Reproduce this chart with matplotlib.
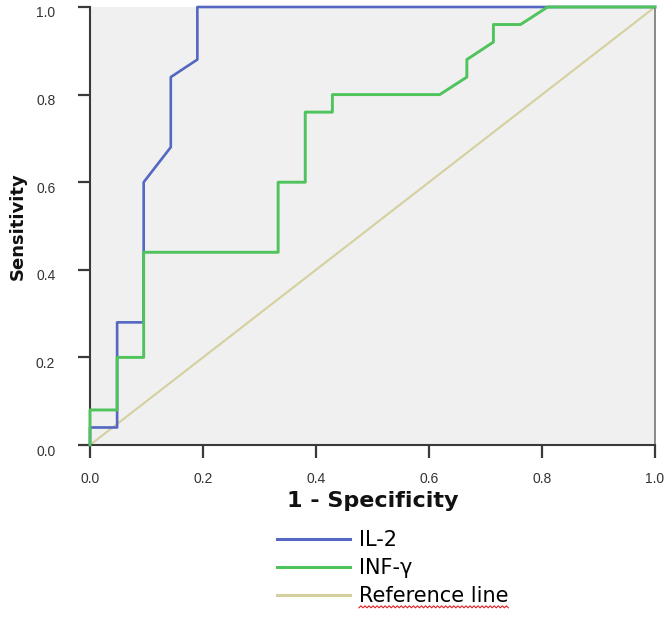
import matplotlib
matplotlib.use('Agg')
import matplotlib.pyplot as plt
from matplotlib.lines import Line2D
import matplotlib.transforms as mtransforms
import numpy as np

# ---- data ----
il2_fpr = [0.0, 0.0, 0.048, 0.048, 0.095, 0.095, 0.143, 0.143, 0.190, 0.190, 1.0]
il2_tpr = [0.0, 0.04, 0.04, 0.28, 0.28, 0.60, 0.68, 0.84, 0.88, 1.0, 1.0]

inf_fpr = [0.0, 0.0, 0.048, 0.048, 0.095, 0.095, 0.333, 0.333, 0.381, 0.381,
           0.429, 0.429, 0.619, 0.667, 0.667, 0.714, 0.714, 0.762, 0.810, 1.0]
inf_tpr = [0.0, 0.08, 0.08, 0.20, 0.20, 0.44, 0.44, 0.60, 0.60, 0.76,
           0.76, 0.80, 0.80, 0.84, 0.88, 0.92, 0.96, 0.96, 1.0, 1.0]

ref_x = [0.0, 1.0]
ref_y = [0.0, 1.0]

tick_values = [0.0, 0.2, 0.4, 0.6, 0.8, 1.0]
tick_labels = ['0.0', '0.2', '0.4', '0.6', '0.8', '1.0']
series_labels = ['IL-2', 'INF-γ', 'Reference line']
x_title = '1 - Specificity'
y_title = 'Sensitivity'

# ---- style ----
c_blue = '#5467c2'
c_green = '#4fc35c'
c_ref = '#d5d09f'
axis_c = '#3a3a3a'

W, H = 672, 617
fig = plt.figure(figsize=(W / 100, H / 100), dpi=100)
ax = fig.add_axes([90 / W, 1 - 445 / H, 565 / W, 438 / H])
ax.set_facecolor('#f0f0f0')

ax.plot(ref_x, ref_y, color=c_ref, lw=1.5, zorder=2)
ax.plot(il2_fpr, il2_tpr, color=c_blue, lw=1.9, zorder=3, clip_on=False)
ax.plot(inf_fpr, inf_tpr, color=c_green, lw=2.1, zorder=4, clip_on=False)

ax.set_xlim(0, 1)
ax.set_ylim(0, 1)
ax.set_xticks(tick_values)
ax.set_xticklabels(tick_labels)
ax.set_yticks(tick_values)
ax.set_yticklabels(tick_labels)

for s in ['left', 'bottom']:
    ax.spines[s].set_color(axis_c)
    ax.spines[s].set_linewidth(1.5)
ax.spines['right'].set_color('#777777')
ax.spines['right'].set_linewidth(1.2)
ax.spines['top'].set_visible(False)

ax.tick_params(direction='out', length=9, width=1.6, color=axis_c,
               labelsize=10, labelcolor='#333333')
ax.tick_params(axis='x', pad=10.5)
ax.tick_params(axis='y', pad=16)
for lab in ax.get_xticklabels() + ax.get_yticklabels():
    lab.set_family('Liberation Sans')
off = mtransforms.ScaledTranslation(0, -5 / 100, fig.dpi_scale_trans)
for lab in ax.get_yticklabels():
    lab.set_transform(lab.get_transform() + off)

ax.set_xlabel(x_title, fontsize=16, fontweight='bold', family='DejaVu Sans', color='#111111')
ax.xaxis.set_label_coords(0.5, -0.106)
ax.set_ylabel(y_title, fontsize=13, fontweight='bold', family='DejaVu Sans', color='#111111')
ax.yaxis.set_label_coords(-0.112, 0.5)

handles = [Line2D([], [], color=c_blue, lw=2.2),
           Line2D([], [], color=c_green, lw=2.2),
           Line2D([], [], color=c_ref, lw=2.2)]
leg = fig.legend(handles, series_labels, loc='upper left',
                 bbox_to_anchor=(277 / W, 1 - 530 / H), frameon=False,
                 prop={'family': 'DejaVu Sans', 'size': 15},
                 handlelength=3.5, handletextpad=0.43, labelspacing=0.38,
                 borderpad=0, borderaxespad=0)

# red wavy spell-check underline below the last legend label
fig.canvas.draw()
bb = leg.get_texts()[2].get_window_extent(fig.canvas.get_renderer())
n = int((bb.x1 - bb.x0) / 2) + 1
wx = np.linspace(bb.x0, bb.x1, n)
wy = bb.y0 - 2 + np.where(np.arange(n) % 2 == 0, 0.0, 2.0)
fig.add_artist(Line2D(wx / W, wy / H, transform=fig.transFigure,
                      color='#e02020', lw=0.8))

fig.savefig('out.png', dpi=100)
